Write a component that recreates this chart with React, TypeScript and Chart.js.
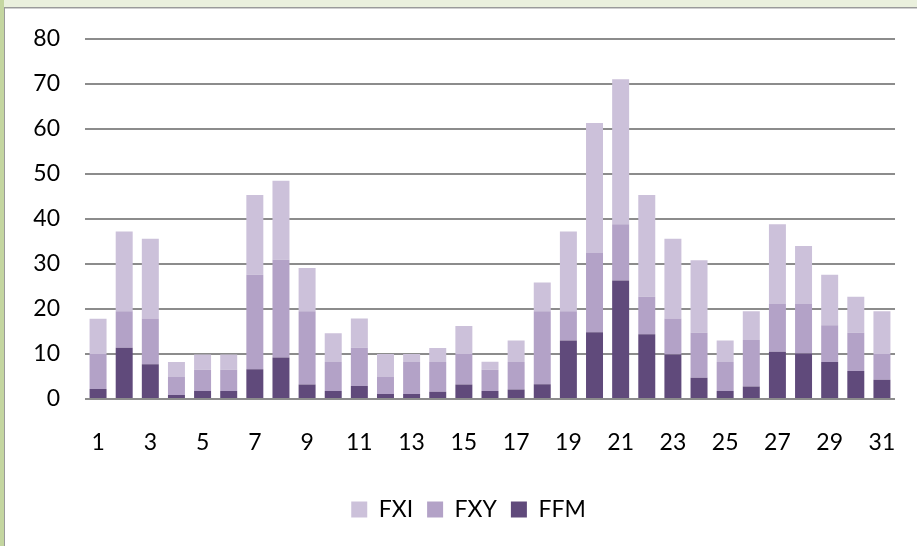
import React, { useEffect, useRef } from "react";
import { Chart, registerables } from "chart.js";

Chart.register(...registerables);

const categories = Array.from({ length: 31 }, (_, i) => String(i + 1));

const ffmValues = [2.2, 11.4, 7.7, 0.9, 1.8, 1.8, 6.6, 9.2, 3.2, 1.8, 2.9, 1.1, 1.1, 1.6, 3.2, 1.8, 2.1, 3.3, 13.0, 14.8, 26.3, 14.4, 9.9, 4.7, 1.8, 2.8, 10.5, 10.1, 8.2, 6.2, 4.3];
const fxyValues = [7.8, 8.1, 10.2, 4.0, 4.7, 4.7, 21.0, 21.7, 16.3, 6.4, 8.5, 3.8, 7.1, 6.6, 6.8, 4.7, 6.1, 16.2, 6.5, 17.6, 12.5, 8.3, 8.0, 10.0, 6.4, 10.3, 10.6, 11.0, 8.2, 8.5, 5.7];
const fxiValues = [7.8, 17.7, 17.7, 3.3, 3.4, 3.4, 17.7, 17.6, 9.6, 6.4, 6.5, 5.1, 1.8, 3.1, 6.2, 1.8, 4.8, 6.4, 17.7, 28.9, 32.2, 22.6, 17.7, 16.1, 4.8, 6.4, 17.7, 12.9, 11.2, 8.0, 9.5];

const yTicks = [0, 10, 20, 30, 40, 50, 60, 70, 80];

const FONT = "Lato, 'Open Sans', sans-serif";
const FS = 23;

const legendShift = {
  id: "legendShift",
  afterLayout(chart: any) {
    const lg = chart.legend;
    if (lg) {
      lg.left += 21;
      lg.right += 21;
    }
  },
};

export default function App() {
  const ref = useRef<HTMLCanvasElement | null>(null);

  useEffect(() => {
    if (!ref.current) return;
    const chart = new Chart(ref.current, {
      type: "bar",
      data: {
        labels: categories,
        datasets: [
          { label: "FFM", data: ffmValues, backgroundColor: "#604a7b", borderWidth: 0 },
          { label: "FXY", data: fxyValues, backgroundColor: "#b3a2c7", borderWidth: 0 },
          { label: "FXI", data: fxiValues, backgroundColor: "#ccc1da", borderWidth: 0 },
        ],
      },
      plugins: [legendShift],
      options: {
        responsive: false,
        animation: false,
        devicePixelRatio: 1,
        layout: { padding: { top: 37, right: 22, bottom: 15, left: 0 } },
        datasets: { bar: { barPercentage: 0.65, categoryPercentage: 1 } },
        plugins: {
          tooltip: { enabled: false },
          legend: {
            position: "bottom",
            reverse: true,
            labels: {
              boxWidth: 16,
              boxHeight: 16,
              padding: 14,
              color: "#000",
              font: { family: FONT, size: FS },
            },
          },
        },
        scales: {
          x: {
            stacked: true,
            grid: { display: false, drawTicks: false },
            border: { display: false },
            ticks: {
              autoSkip: false,
              maxRotation: 0,
              padding: 30,
              color: "#000",
              font: { family: FONT, size: FS },
              callback: (_v: any, i: number) => (i % 2 === 0 ? categories[i] : ""),
            },
            afterFit: (s: any) => {
              s.height = 85;
              s.paddingLeft = 0;
              s.paddingRight = 0;
            },
          },
          y: {
            stacked: true,
            min: 0,
            max: 80,
            afterBuildTicks: (s: any) => {
              s.ticks = yTicks.map((v) => ({ value: v }));
            },
            grid: { color: "#8c8c8c", lineWidth: 2, drawTicks: false },
            border: { display: false },
            ticks: {
              padding: 25,
              color: "#000",
              font: { family: FONT, size: FS },
            },
            afterFit: (s: any) => {
              s.width = 85;
            },
          },
        },
      },
    });
    return () => chart.destroy();
  }, []);

  return (
    <div style={{ position: "absolute", left: 0, top: 0, width: 917, height: 546, background: "#fff", overflow: "hidden" }}>
      <div style={{ position: "absolute", left: 0, top: 0, width: 917, height: 7, background: "#eaf0dd" }} />
      <div style={{ position: "absolute", left: 0, top: 0, width: 4, height: 546, background: "#c4d6a0" }} />
      <div style={{ position: "absolute", left: 4, top: 7, width: 913, height: 1, background: "#9a9a9a" }} />
      <div style={{ position: "absolute", left: 4, top: 8, width: 913, height: 1, background: "#d0d0d0" }} />
      <div style={{ position: "absolute", left: 4, top: 7, width: 1, height: 539, background: "#9a9a9a" }} />
      <canvas ref={ref} width={917} height={546} style={{ position: "absolute", left: 0, top: 0, display: "block" }} />
    </div>
  );
}
